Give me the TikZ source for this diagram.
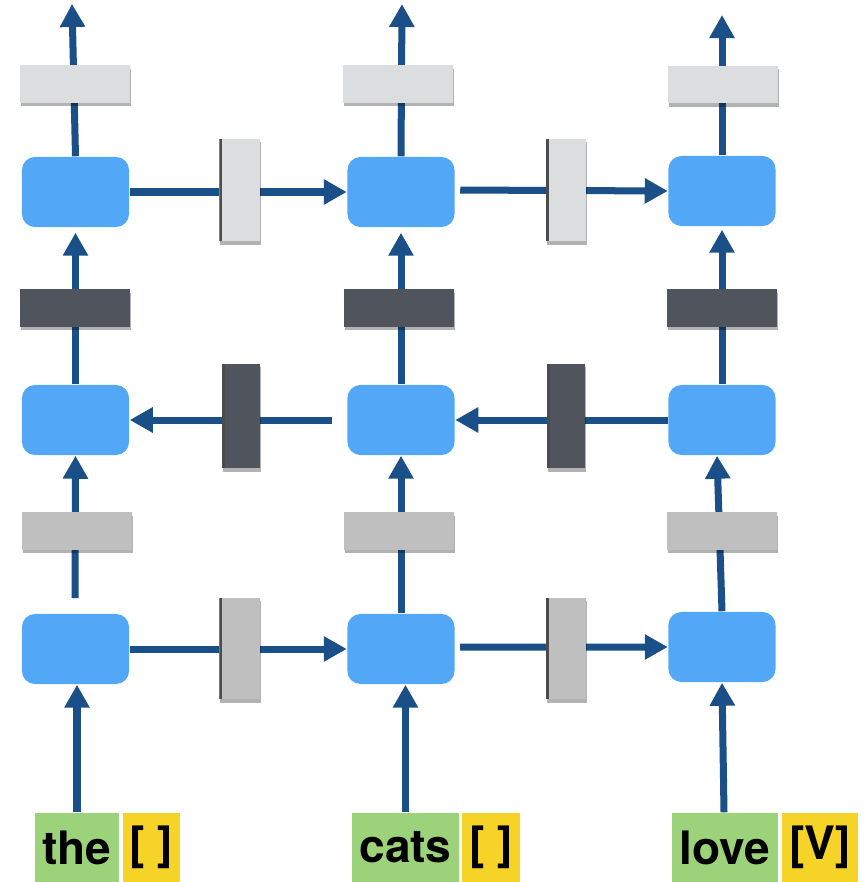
\documentclass[tikz,border=0pt]{standalone}
\usepackage{fontspec}
\setmainfont{TeX Gyre Heros}
\usetikzlibrary{arrows.meta,shadows,backgrounds}
\definecolor{arrowblue}{HTML}{1B4F87}
\definecolor{cellblue}{HTML}{52A8F7}
\definecolor{lightg}{HTML}{DCDDDF}
\definecolor{darkg}{HTML}{50555D}
\definecolor{midg}{HTML}{BFBFBF}
\definecolor{wordgreen}{HTML}{9BD27A}
\definecolor{tagyellow}{HTML}{F5D327}
\tikzset{
  cell/.style={fill=cellblue, draw=none, rounded corners=0.13cm, minimum width=1.07cm, minimum height=0.70cm, inner sep=0pt},
  hbar/.style={draw=none, minimum width=1.10cm, minimum height=0.37cm, inner sep=0pt,
    drop shadow={shadow xshift=0.01cm, shadow yshift=-0.035cm, opacity=0.3, fill=black}},
  vbar/.style={draw=none, minimum width=0.40cm, minimum height=1.02cm, inner sep=0pt,
    drop shadow={shadow xshift=0.01cm, shadow yshift=-0.035cm, opacity=0.3, fill=black},
    path picture={\fill[black!70] (path picture bounding box.north west) rectangle ([xshift=0.03cm]path picture bounding box.south west);}},
  arr/.style={draw=arrowblue, line width=0.07cm, -{Triangle[width=0.24cm,length=0.23cm]}},
  word/.style={fill=wordgreen, minimum height=0.69cm, inner sep=0pt, font=\fontsize{13.1}{15}\selectfont\bfseries, text=black},
  tag/.style={fill=tagyellow, minimum height=0.69cm, inner sep=0pt, font=\fontsize{13.1}{15}\selectfont\bfseries, text=black}
}
\begin{document}
\begin{tikzpicture}[x=0.01cm,y=-0.01cm]
\useasboundingbox (0,0) rectangle (865,882);
% cells
\node[cell] (b11) at (75.5,192) {};
\node[cell] (b12) at (401,192) {};
\node[cell] (b13) at (722,191) {};
\node[cell] (b21) at (75.5,420) {};
\node[cell] (b22) at (401,420) {};
\node[cell] (b23) at (722,420) {};
\node[cell] (b31) at (75.5,649) {};
\node[cell] (b32) at (401,649) {};
\node[cell] (b33) at (722,647) {};
% horizontal bars
\node[hbar, fill=lightg] (o1) at (75,84) {};
\node[hbar, fill=lightg] (o2) at (398,84) {};
\node[hbar, fill=lightg] (o3) at (723,84.5) {};
\node[hbar, fill=darkg] (d1) at (75,308) {};
\node[hbar, fill=darkg] (d2) at (399,308) {};
\node[hbar, fill=darkg] (d3) at (722,308) {};
\node[hbar, fill=midg] (m1) at (77,531) {};
\node[hbar, fill=midg] (m2) at (399,531) {};
\node[hbar, fill=midg] (m3) at (722,531) {};
% vertical bars
\node[vbar, fill=lightg] (h11) at (239.5,190) {};
\node[vbar, fill=lightg] (h12) at (566,190) {};
\node[vbar, fill=darkg, minimum width=0.38cm, minimum height=1.04cm] (h21) at (241,416) {};
\node[vbar, fill=darkg, minimum width=0.38cm, minimum height=1.04cm] (h22) at (566,416) {};
\node[vbar, fill=midg, minimum height=1.01cm] (h31) at (239.5,648.5) {};
\node[vbar, fill=midg, minimum height=1.01cm] (h32) at (566,648.5) {};
% words
\node[word, minimum width=0.84cm] (w1) at (77,847.5) {the};
\node[tag, minimum width=0.57cm] (y1) at (151.5,847.5) {[ ]};
\node[word, minimum width=1.07cm] (w2) at (405.5,847.5) {cats};
\node[tag, minimum width=0.58cm] (y2) at (491,847.5) {[ ]};
\node[word, minimum width=1.06cm] (w3) at (725,847.5) {love};
\node[tag, minimum width=0.76cm] (y3) at (820,847.5) {[V]};
% free ends
\coordinate (t1) at (72,4);
\coordinate (t2) at (402,4);
\coordinate (t3) at (722,15);
\coordinate (c1) at (75,598);
\begin{scope}[on background layer]
% outputs
\draw[arr] (b11.north) -- (t1);
\draw[arr] (b12.north) -- (t2);
\draw[arr] (b13.north) -- (t3);
% layer 2 -> layer 1
\draw[arr, shorten >=0.05cm] (b21.north) -- (b11.south);
\draw[arr, shorten >=0.05cm] (b22.north) -- (b12.south);
\draw[arr, shorten >=0.03cm] (b23.north) -- (b13.south);
% layer 3 -> layer 2
\draw[arr] (c1) -- (b21.south);
\draw[arr] (b32.north) -- (b22.south);
\draw[arr] (b33.north) -- ([xshift=-0.05cm]b23.south);
% words -> layer 3
\draw[arr] (w1.north) -- (w1.north |- b31.south);
\draw[arr] (w2.north) -- (w2.north |- b32.south);
\draw[arr] ([xshift=-0.01cm]w3.north) -- (b33.south);
% row 1 (forward)
\draw[arr] (b11.east) -- (b12.west);
\draw[arr, shorten <=0.05cm] ([yshift=0.02cm]b12.east) -- (b13.west);
% row 2 (backward)
\draw[arr, shorten <=0.15cm] (b22.west) -- (b21.east);
\draw[arr] (b23.west) -- (b22.east);
% row 3 (forward)
\draw[arr] (b31.east) -- (b32.west);
\draw[arr, shorten <=0.05cm] ([yshift=0.02cm]b32.east) -- (b33.west);
\end{scope}
\end{tikzpicture}
\end{document}
